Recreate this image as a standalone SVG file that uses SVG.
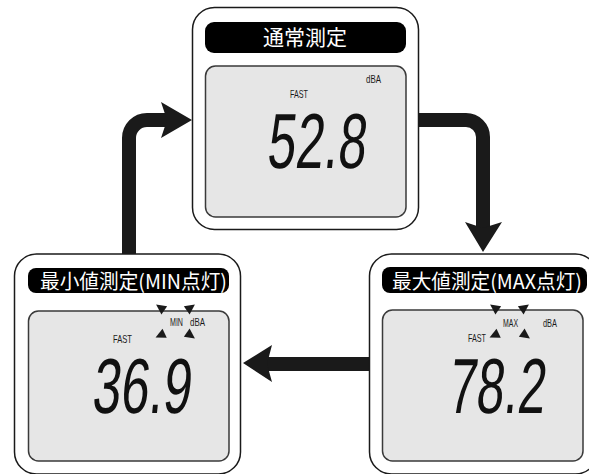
<svg xmlns="http://www.w3.org/2000/svg" width="589" height="474" viewBox="0 0 589 474">
<style>
.card{fill:#fff;stroke:#1a1a1a;stroke-width:1.5}
.bar{fill:#000}
.screen{fill:#e6e6e6;stroke:#3a3a3a;stroke-width:1.5}
.title{font-family:"Noto Sans CJK JP","Noto Sans",sans-serif;font-weight:400;fill:#fff}
.small{font-family:"Liberation Sans",Arial,sans-serif;font-size:11.5px;fill:#1a1a1a}
.lcd{font-family:"Liberation Sans",Arial,sans-serif;font-size:78px;fill:#111}
.shaft{fill:none;stroke:#1a1a1a;stroke-width:14}
.head{fill:#1a1a1a}
.tri{fill:#1a1a1a}
</style>
<defs>
<polygon id="t" points="0,-6 5,4 -5,4"/>
</defs>
<g id="connectors">
<path class="shaft" d="M129,254 V138 A18,18 0 0 1 147,120 H167"/>
<polygon class="head" points="161,102 192,120 161,138 167,120"/>
<path class="shaft" d="M418,120 H466 A17,17 0 0 1 483,137 V228"/>
<polygon class="head" points="465,222 483,252 502,222 483,228"/>
<path class="shaft" d="M369,364 H266"/>
<polygon class="head" points="272,345 243,363 272,382 267,364"/>
</g>
<g id="normal">
<rect class="card" x="192.5" y="7.5" width="226" height="222" rx="22"/>
<rect class="bar" x="205" y="22" width="201" height="31" rx="9"/>
<text class="title" x="305" y="45" font-size="21" text-anchor="middle" textLength="84" lengthAdjust="spacingAndGlyphs">通常測定</text>
<rect class="screen" x="205.5" y="66" width="200.5" height="151" rx="10"/>
<text class="small" x="290" y="98" textLength="18" lengthAdjust="spacingAndGlyphs">FAST</text>
<text class="small" x="366" y="83" textLength="15" lengthAdjust="spacingAndGlyphs">dBA</text>
<text class="lcd" transform="translate(266,168) skewX(-6) scale(0.65,1)">52.8</text>
</g>
<g id="min">
<rect class="card" x="14.5" y="254" width="226" height="220" rx="22"/>
<rect class="bar" x="28" y="268" width="201" height="25" rx="8"/>
<text class="title" x="40" y="288.5" font-size="20" textLength="187" lengthAdjust="spacingAndGlyphs">最小値測定(MIN点灯)</text>
<rect class="screen" x="28.5" y="311" width="200.5" height="150" rx="10"/>
<text class="small" x="113" y="343" textLength="19" lengthAdjust="spacingAndGlyphs">FAST</text>
<text class="small" x="170" y="326" textLength="13" lengthAdjust="spacingAndGlyphs">MIN</text>
<text class="small" x="190" y="326" textLength="15" lengthAdjust="spacingAndGlyphs">dBA</text>
<use class="tri" href="#t" transform="translate(161,308) rotate(-55)"/>
<use class="tri" href="#t" transform="translate(190,308) rotate(55)"/>
<use class="tri" href="#t" transform="translate(161,335) rotate(-115)"/>
<use class="tri" href="#t" transform="translate(190,335) rotate(125)"/>
<text class="lcd" transform="translate(91,413) skewX(-6) scale(0.65,1)">36.9</text>
</g>
<g id="max">
<rect class="card" x="369.5" y="254" width="228" height="220" rx="22"/>
<rect class="bar" x="382" y="267" width="205" height="26" rx="8"/>
<text class="title" x="392" y="288.5" font-size="20" textLength="190" lengthAdjust="spacingAndGlyphs">最大値測定(MAX点灯)</text>
<rect class="screen" x="382.5" y="310" width="200.5" height="151" rx="10"/>
<text class="small" x="468" y="342" textLength="18" lengthAdjust="spacingAndGlyphs">FAST</text>
<text class="small" x="503" y="327" textLength="15" lengthAdjust="spacingAndGlyphs">MAX</text>
<text class="small" x="543" y="327" textLength="14" lengthAdjust="spacingAndGlyphs">dBA</text>
<use class="tri" href="#t" transform="translate(495,308) rotate(-55)"/>
<use class="tri" href="#t" transform="translate(524,308) rotate(55)"/>
<use class="tri" href="#t" transform="translate(495,335) rotate(-115)"/>
<use class="tri" href="#t" transform="translate(525,335) rotate(125)"/>
<text class="lcd" transform="translate(447,413) skewX(-6) scale(0.64,1)">78.2</text>
</g>
</svg>
